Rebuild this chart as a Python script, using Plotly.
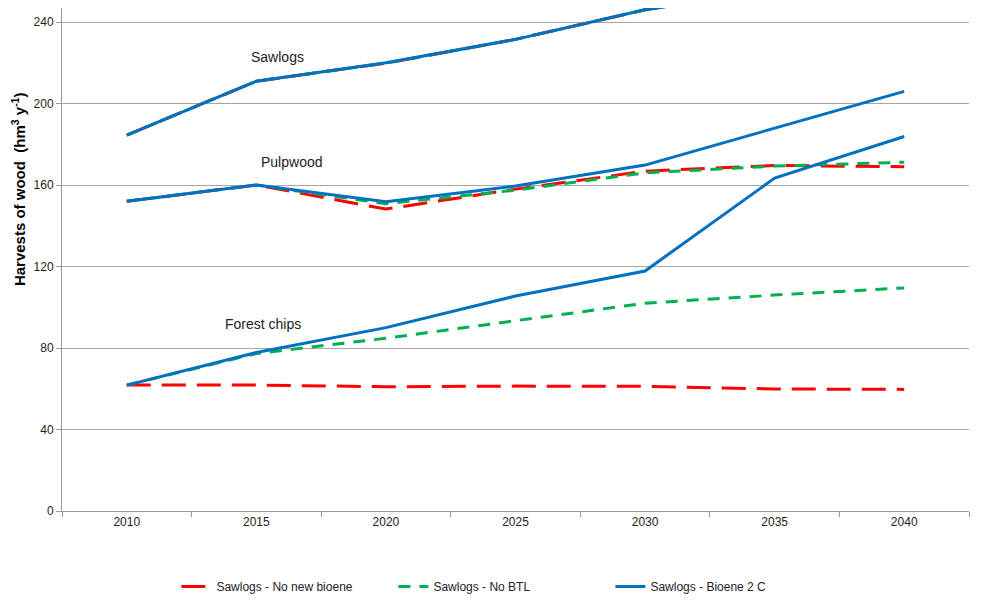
import plotly.graph_objects as go

years = ["2010", "2015", "2020", "2025", "2030", "2035", "2040"]

# harvests, hm3 per year
saw_no_new = [184.5, 211, 219.8, 231.5, 246, 256, 262]
saw_no_btl = [184.5, 211, 219.8, 231.5, 246, 256, 262]
saw_bioene = [184.5, 211, 220, 231.5, 246, 256, 262]

pulp_no_new = [152, 160, 148.2, 158, 166.8, 169.6, 169]
pulp_no_btl = [152, 160, 150.8, 157.5, 166, 169.3, 171.2]
pulp_bioene = [152, 160, 151.8, 159.5, 169.8, 188, 206]

chips_no_new = [61.8, 61.8, 61.0, 61.3, 61.2, 59.9, 59.7]
chips_no_btl = [61.8, 77.3, 84.8, 93.5, 102, 106, 109.5]
chips_bioene = [61.8, 77.8, 90, 105.5, 117.8, 163.4, 183.8]

RED = "#FF0000"
GREEN = "#00B050"
BLUE = "#0070C0"
red_dash = "24px,11px"
green_dash = "12px,9px"

fig = go.Figure()

series = [
    ("Sawlogs - No new bioene", saw_no_new, RED, red_dash, True),
    ("Sawlogs - No BTL", saw_no_btl, GREEN, green_dash, True),
    ("Sawlogs - Bioene 2 C", saw_bioene, BLUE, "solid", True),
    ("Pulpwood - No new bioene", pulp_no_new, RED, red_dash, False),
    ("Pulpwood - No BTL", pulp_no_btl, GREEN, green_dash, False),
    ("Pulpwood - Bioene 2 C", pulp_bioene, BLUE, "solid", False),
    ("Forest chips - No new bioene", chips_no_new, RED, red_dash, False),
    ("Forest chips - No BTL", chips_no_btl, GREEN, green_dash, False),
    ("Forest chips - Bioene 2 C", chips_bioene, BLUE, "solid", False),
]

for name, vals, col, dash, show in series:
    fig.add_trace(go.Scatter(
        x=years, y=vals, name=name, mode="lines",
        line=dict(color=col, width=3, dash=dash),
        showlegend=show,
    ))

# group labels
for txt, xp, yv in [("Sawlogs", 0.238, 222.8), ("Pulpwood", 0.254, 171.3),
                    ("Forest chips", 0.222, 91.8)]:
    fig.add_annotation(text=txt, xref="paper", yref="y", x=xp, y=yv,
                       xanchor="center", yanchor="middle",
                       showarrow=False, font=dict(size=14, color="#222"))

# y axis title, sits above the plot middle like the source
fig.add_annotation(text="<b>Harvests of wood  (hm<sup>3</sup> y<sup>-1</sup>)</b>",
                   xref="paper", yref="paper", x=-0.0485, y=0.64,
                   xanchor="center", yanchor="middle", textangle=-90,
                   showarrow=False, font=dict(family="Liberation Sans, Arial", size=15, color="#000"))

fig.update_layout(
    width=1000, height=600,
    margin=dict(l=54, r=39, t=0, b=97, autoexpand=False),
    plot_bgcolor="white", paper_bgcolor="white",
    font=dict(family="Liberation Sans Narrow, Liberation Sans, Arial", size=12, color="#222"),
    legend=dict(orientation="h", x=0.485, xanchor="center", y=-0.15, yanchor="middle",
                font=dict(size=12), entrywidth=172, entrywidthmode="pixels",
                tracegroupgap=0),
    xaxis=dict(type="category", range=[-0.5, 6.5], showline=True, linecolor="#999", linewidth=1,
               ticks="outside", tickson="boundaries", ticklen=5, tickcolor="#999",
               showgrid=False, tickfont=dict(size=12)),
    yaxis=dict(range=[0, 246.9], tickvals=[0, 40, 80, 120, 160, 200, 240],
               showline=True, linecolor="#999", linewidth=1,
               ticks="outside", ticklen=5, tickcolor="#999",
               gridcolor="#a6a6a6", gridwidth=1, zeroline=False,
               tickfont=dict(size=12)),
)

fig.write_html("out.html")
